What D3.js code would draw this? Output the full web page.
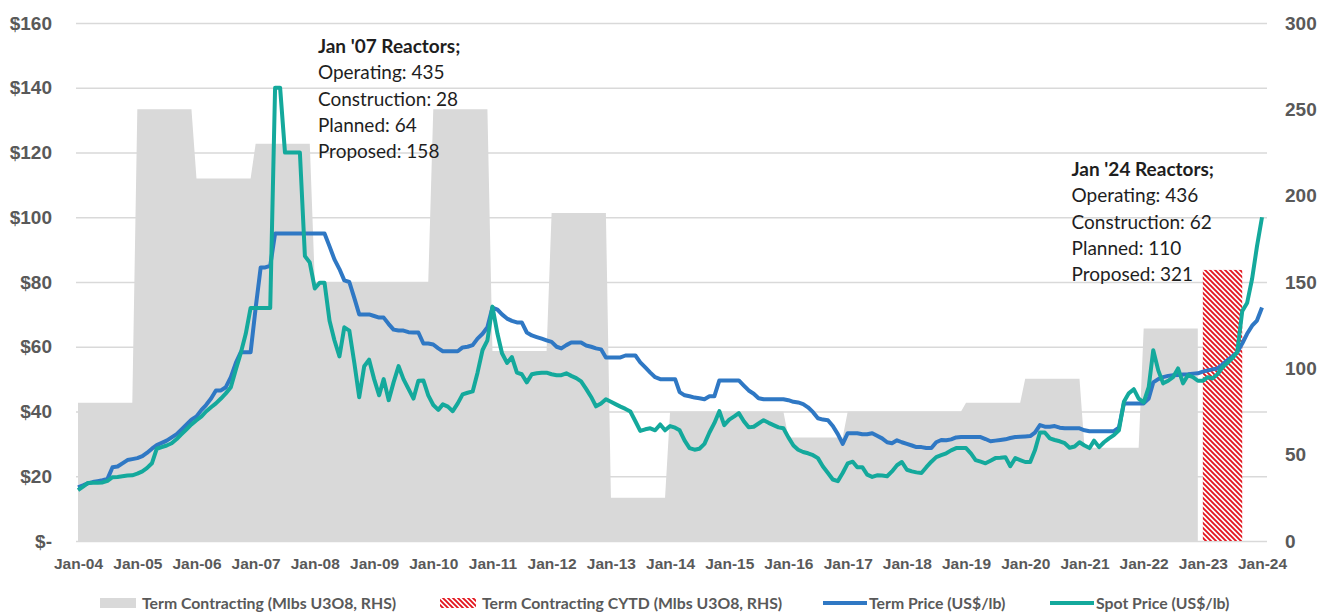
<!DOCTYPE html>
<html>
<head>
<meta charset="utf-8">
<script src="https://d3js.org/d3.v7.min.js"></script>
<style>
  body { margin: 0; background: #fff; }
  svg { display: block; font-family: Lato, "Open Sans", sans-serif; }
  .tick text { fill: #595959; font-weight: bold; }
</style>
</head>
<body>
<svg id="chart" width="1333" height="613"></svg>
<script>
// yearly term contracting volume (Mlbs U3O8, RHS), 2004..2022
const contractYears = d3.range(2004, 2023);
const termContracting = [80, 250, 210, 230, 150, 150, 250, 110, 190, 25, 75, 75, 60, 75, 75, 80, 94, 54, 123];
// calendar year-to-date 2023
const cytdYear = 2023;
const cytdValue = 157;
const cytdMonths = 8;

// monthly prices, Jan-2004 .. Jan-2024 (US$/lb)
const termPrice = [
  16.6, 17.2, 17.8, 18.2, 18.5, 18.8, 19.2, 22.8, 23.0, 24.0, 25.0, 25.3,
  25.6, 26.2, 27.2, 28.5, 29.6, 30.3, 31.0, 32.0, 33.0, 34.5, 36.0, 37.5,
  38.5, 40.5, 42.0, 44.0, 46.5, 46.5, 47.5, 50.6, 55.0, 58.3, 58.3, 58.3,
  72.0, 84.5, 84.5, 85.0, 95.0, 95.0, 95.0, 95.0, 95.0, 95.0, 95.0, 95.0,
  95.0, 95.0, 95.0, 91.0, 87.0, 84.0, 80.5, 80.0, 75.0, 70.0, 70.0, 70.0,
  69.5, 69.0, 69.0, 67.0, 65.3, 65.0, 65.0, 64.5, 64.4, 64.4, 61.0, 61.0,
  60.7, 59.5, 58.6, 58.6, 58.6, 58.6, 59.8, 60.0, 60.5, 62.5, 64.0, 66.0,
  72.1, 71.5, 70.0, 68.7, 68.0, 67.5, 67.5, 64.4, 63.5, 63.0, 62.5, 62.0,
  61.5, 60.0, 59.5, 60.5, 61.3, 61.3, 61.3, 60.4, 60.0, 59.5, 59.2, 56.7,
  56.7, 56.7, 56.7, 57.3, 57.3, 57.3, 55.2, 53.6, 52.0, 50.6, 50.0, 50.0,
  50.0, 50.0, 46.0, 45.0, 44.7, 44.3, 44.1, 43.8, 44.7, 44.7, 49.6, 49.6,
  49.6, 49.6, 49.6, 48.0, 46.5, 45.5, 44.1, 43.8, 43.8, 43.8, 43.8, 43.8,
  43.5, 43.0, 42.8, 42.3, 41.3, 39.8, 37.9, 37.5, 37.3, 35.5, 33.0, 30.0,
  33.3, 33.3, 33.3, 33.0, 33.0, 33.3, 32.5, 31.7, 30.5, 30.2, 31.1, 30.5,
  30.0, 29.5, 29.0, 29.0, 28.7, 28.7, 30.5, 31.2, 31.1, 31.4, 32.0, 32.1,
  32.1, 32.1, 32.1, 32.1, 31.5, 30.8, 31.0, 31.2, 31.4, 31.8, 32.1, 32.2,
  32.3, 32.4, 33.5, 35.8, 35.3, 35.3, 35.5, 35.0, 34.8, 34.8, 34.8, 34.8,
  34.2, 33.9, 33.9, 33.9, 33.9, 33.9, 33.9, 35.0, 42.5, 42.5, 42.5, 42.5,
  42.5, 44.0, 49.0, 50.0, 50.6, 51.0, 51.2, 51.3, 51.4, 51.5, 51.7, 51.8,
  52.3, 52.7, 53.0, 53.3, 54.5, 55.8, 57.0, 58.3, 61.0, 64.0, 66.5, 68.1,
  72.1
];
const spotPrice = [
  15.7, 16.8, 17.9, 18.0, 18.0, 18.1, 18.6, 19.7, 19.8, 20.0, 20.2, 20.3,
  20.8, 21.5, 22.5, 24.0, 28.5, 29.0, 29.5, 30.2, 31.5, 33.0, 34.5, 36.0,
  37.3, 38.5, 40.0, 41.3, 42.5, 44.0, 45.6, 47.5, 53.0, 58.0, 64.0, 72.0,
  72.0, 72.0, 72.0, 72.0, 140, 140, 120, 120, 120, 120, 88.0, 86.0,
  78.0, 79.8, 79.8, 68.0, 62.0, 57.0, 66.0, 65.0, 55.0, 44.4, 54.0, 56.0,
  50.0, 45.0, 50.0, 43.5, 49.0, 54.0, 50.0, 47.0, 44.0, 49.5, 49.6, 45.0,
  42.0, 40.5, 42.2, 41.5, 40.1, 42.5, 45.3, 45.8, 46.2, 52.0, 59.0, 62.0,
  72.4, 64.0, 58.0, 55.0, 56.8, 52.0, 51.5, 49.0, 51.5, 51.8, 52.0, 52.0,
  51.5, 51.2, 51.2, 51.8, 51.0, 50.3, 49.3, 47.0, 44.5, 41.6, 42.5, 43.8,
  43.0, 42.2, 41.5, 40.8, 40.0, 37.0, 34.0, 34.5, 34.8, 34.2, 36.0, 34.2,
  35.5, 35.0, 34.2, 31.0, 28.7, 28.2, 28.5, 30.0, 33.5, 36.4, 40.1, 35.8,
  37.5, 38.5, 39.5, 37.0, 35.1, 35.3, 36.3, 37.3, 36.5, 35.8, 35.1, 34.8,
  32.0, 29.5, 28.2, 27.5, 27.1, 26.5, 25.6, 23.0, 21.0, 19.0, 18.5, 21.0,
  24.0, 24.5, 22.8, 22.8, 20.5, 19.8, 20.3, 20.2, 20.0, 21.5, 23.4, 24.4,
  22.0, 21.5, 21.2, 21.0, 22.8, 24.5, 25.9, 26.5, 27.1, 28.0, 28.7, 28.7,
  28.7, 27.0, 25.0, 24.5, 24.0, 24.8, 25.6, 25.7, 25.9, 23.1, 25.6, 25.0,
  24.4, 24.4, 28.0, 33.5, 33.5, 31.7, 31.2, 30.8, 30.2, 28.8, 29.2, 30.5,
  29.5, 28.7, 31.0, 29.0, 30.5, 31.7, 32.7, 34.2, 43.0, 45.6, 46.9, 44.0,
  42.8, 47.5, 58.9, 52.7, 48.7, 49.5, 50.6, 53.3, 48.7, 51.2, 50.6, 49.5,
  49.5, 50.6, 50.2, 51.5, 53.6, 55.0, 56.4, 58.3, 71.0, 73.5, 81.0, 91.0,
  100.0
];

const leftTicks = [0, 20, 40, 60, 80, 100, 120, 140, 160];
const rightTicks = [0, 50, 100, 150, 200, 250, 300];

// annotation anchors: date (x) and LHS price (baseline of first line)
const notes = [
  { date: new Date(2008, 0, 20), price: 150.7, lines: ["Jan '07 Reactors;", "Operating: 435", "Construction: 28", "Planned: 64", "Proposed: 158"] },
  { date: new Date(2020, 9, 13), price: 112.7, lines: ["Jan '24 Reactors;", "Operating: 436", "Construction: 62", "Planned: 110", "Proposed: 321"] }
];

const legendItems = [
  { label: "Term Contracting (Mlbs U3O8, RHS)", kind: "area", x: 100 },
  { label: "Term Contracting CYTD (Mlbs U3O8, RHS)", kind: "hatch", x: 440 },
  { label: "Term Price (US$/lb)", kind: "term", x: 823 },
  { label: "Spot Price (US$/lb)", kind: "spot", x: 1050 }
];

const colors = { area: "#d9d9d9", term: "#2f78c4", spot: "#14a99c", hatch: "#e3161e", grid: "#d9d9d9", text: "#595959" };

const svg = d3.select("#chart");
const plotL = 78, plotR = 1267, plotT = 23, plotB = 541;

const month = i => new Date(2004, i, 1);
const x = d3.scaleTime().domain([new Date(2004, 0, 1), new Date(2024, 0, 1)]).range([78, 1262]);
const yL = d3.scaleLinear().domain([0, 160]).range([plotB, plotT]);
const yR = d3.scaleLinear().domain([0, 300]).range([plotB, plotT]);

// hatch pattern
const defs = svg.append("defs");
const pat = defs.append("pattern").attr("id", "hatch").attr("patternUnits", "userSpaceOnUse")
  .attr("width", 5).attr("height", 5);
pat.append("rect").attr("width", 5).attr("height", 5).attr("fill", "#fff");
pat.append("path").attr("d", "M0,0L5,5M-1,4L1,6M4,-1L6,1")
  .attr("stroke", colors.hatch).attr("stroke-width", 1.9);

// gridlines
svg.append("g").attr("transform", `translate(${plotL - 2},0)`)
  .call(d3.axisLeft(yL).tickValues(leftTicks).tickSize(-(plotR - plotL + 2)).tickFormat(""))
  .call(g => g.select(".domain").remove())
  .call(g => g.selectAll("line").attr("stroke", colors.grid).attr("stroke-width", 1.3));

// term contracting area (yearly steps)
const areaPts = [];
contractYears.forEach((yr, i) => {
  areaPts.push({ d: new Date(yr, 0, 1), v: termContracting[i] });
  areaPts.push({ d: new Date(yr, 11, 1), v: termContracting[i] });
});
svg.append("path").datum(areaPts)
  .attr("fill", colors.area)
  .attr("d", d3.area().x(d => x(d.d)).y0(yR(0)).y1(d => yR(d.v)));

// CYTD bar
svg.append("rect")
  .attr("x", x(new Date(cytdYear, 0, 1)))
  .attr("width", x(new Date(cytdYear, cytdMonths, 1)) - x(new Date(cytdYear, 0, 1)))
  .attr("y", yR(cytdValue))
  .attr("height", yR(0) - yR(cytdValue))
  .attr("fill", "url(#hatch)");

// price lines
const line = d3.line().x((d, i) => x(month(i))).y(d => yL(d));
svg.append("path").datum(termPrice).attr("fill", "none").attr("stroke", colors.term)
  .attr("stroke-width", 4).attr("stroke-linejoin", "round").attr("d", line);
svg.append("path").datum(spotPrice).attr("fill", "none").attr("stroke", colors.spot)
  .attr("stroke-width", 4).attr("stroke-linejoin", "round").attr("d", line);

// axes
svg.append("g").attr("transform", `translate(${plotL},0)`)
  .call(d3.axisLeft(yL).tickValues(leftTicks).tickSize(0).tickPadding(26)
    .tickFormat(d => d === 0 ? "$-" : "$" + d))
  .call(g => g.select(".domain").remove())
  .call(g => g.selectAll("text").style("font-size", "19px"));

svg.append("g").attr("transform", `translate(${plotR},0)`)
  .call(d3.axisRight(yR).tickValues(rightTicks).tickSize(0).tickPadding(18))
  .call(g => g.select(".domain").remove())
  .call(g => g.selectAll("text").style("font-size", "19px"));

svg.append("g").attr("transform", `translate(0,${plotB})`)
  .call(d3.axisBottom(x).ticks(d3.timeYear.every(1)).tickSize(0).tickFormat(d3.timeFormat("Jan-%y")))
  .call(g => g.select(".domain").remove())
  .call(g => g.selectAll("text").attr("y", 17).style("font-size", "15.5px"));

// annotations
notes.forEach(n => {
  const t = svg.append("text").attr("x", x(n.date)).attr("y", yL(n.price))
    .attr("fill", "#1e1e1e").style("font-size", "19px");
  n.lines.forEach((s, i) => {
    t.append("tspan").attr("x", x(n.date)).attr("dy", i === 0 ? 0 : 26.3)
      .style("font-weight", i === 0 ? "bold" : "normal").text(s);
  });
});

// legend
const ly = 603;
legendItems.forEach(it => {
  const g = svg.append("g");
  let tx;
  if (it.kind === "area" || it.kind === "hatch") {
    g.append("rect").attr("x", it.x).attr("y", ly - 5).attr("width", 36).attr("height", 10)
      .attr("fill", it.kind === "area" ? colors.area : "url(#hatch)");
    tx = it.x + 42;
  } else {
    g.append("line").attr("x1", it.x).attr("x2", it.x + 44).attr("y1", ly).attr("y2", ly)
      .attr("stroke", colors[it.kind]).attr("stroke-width", 4);
    tx = it.x + 46;
  }
  g.append("text").attr("x", tx).attr("y", ly).attr("dy", "0.35em")
    .attr("fill", colors.text).style("font-size", "15.8px").style("font-weight", "bold").text(it.label);
});
</script>
</body>
</html>
